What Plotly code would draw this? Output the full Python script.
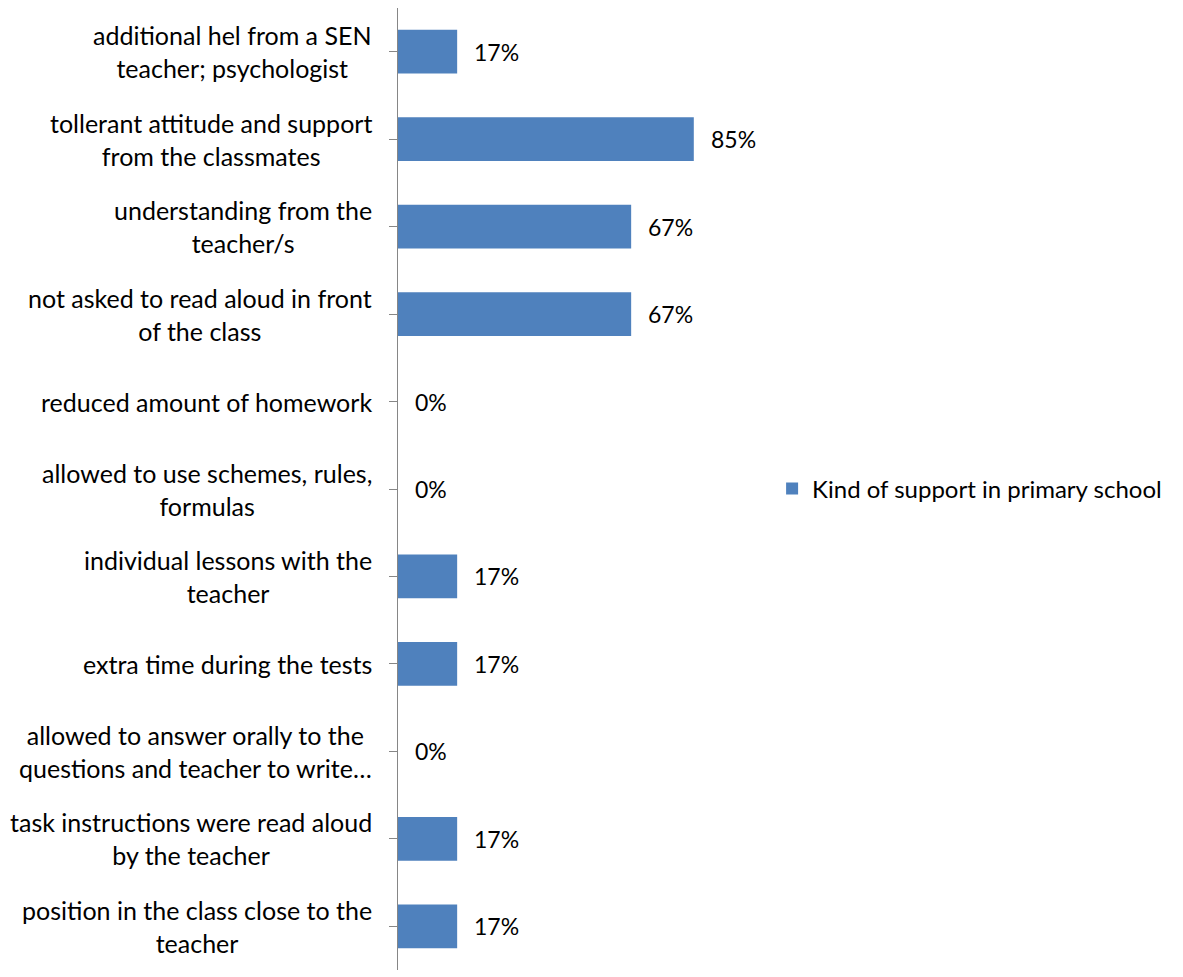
import plotly.graph_objects as go

# Support categories, top to bottom
categories = [
    "additional hel from a SEN<br>teacher; psychologist",
    "tollerant attitude and support<br>from the classmates",
    "understanding from the<br>teacher/s",
    "not asked to read aloud in front<br>of the class",
    "reduced amount of homework",
    "allowed to use schemes, rules,<br>formulas",
    "individual lessons with the<br>teacher",
    "extra time during the tests",
    "allowed to answer orally to the<br>questions and teacher to write…",
    "task instructions were read aloud<br>by the teacher",
    "position in the class close to the<br>teacher",
]
values_pct = [17, 85, 67, 67, 0, 0, 17, 17, 0, 17, 17]
series_name = "Kind of support in primary school"

FONT = "Lato"
FS_CAT = 25
FS_VAL = 23
FS_LEG = 24
BAR_COLOR = "#4F81BD"
AXIS_COLOR = "#868686"

W, H = 1183, 977
L, R, T, B = 398, 437, 8, 7

ids = list(range(len(categories)))
xs = [v / 100 for v in values_pct]

fig = go.Figure()
fig.add_trace(go.Bar(
    x=xs, y=ids, orientation="h", name=series_name,
    marker=dict(color=BAR_COLOR, line=dict(width=0)),
    width=0.5, showlegend=True,
))

annotations = []
# category labels, lines centred within each label block
for i, c in enumerate(categories):
    annotations.append(dict(
        x=0, xref="paper", y=i, yref="y", text=c, showarrow=False,
        xanchor="right", yanchor="middle", align="center", xshift=-24,
        font=dict(family=FONT, size=FS_CAT, color="#000000"),
    ))
# data labels
for i, (x, v) in enumerate(zip(xs, values_pct)):
    annotations.append(dict(
        x=x, xref="x", y=i, yref="y", text=f"{v}%", showarrow=False,
        xanchor="left", yanchor="middle", xshift=15,
        font=dict(family=FONT, size=FS_VAL, color="#000000"),
    ))

fig.update_layout(
    width=W, height=H,
    margin=dict(l=L, r=R, t=T, b=B),
    paper_bgcolor="white", plot_bgcolor="white",
    font=dict(family=FONT, size=FS_CAT, color="#000000"),
    xaxis=dict(range=[0, 1], showgrid=False, zeroline=False,
               showticklabels=False, showline=False, ticks=""),
    yaxis=dict(range=[len(categories) - 0.5, -0.5], tickmode="array",
               tickvals=ids, ticktext=[""] * len(ids), tickson="boundaries",
               ticks="outside", ticklen=8, tickcolor=AXIS_COLOR, tickwidth=1,
               showline=True, linecolor=AXIS_COLOR, linewidth=1,
               showgrid=False, zeroline=False),
    legend=dict(x=1.075, xanchor="left", y=0.5, yanchor="middle",
                font=dict(family=FONT, size=FS_LEG), bgcolor="rgba(0,0,0,0)"),
    annotations=annotations,
)

fig.write_html("out.html")
